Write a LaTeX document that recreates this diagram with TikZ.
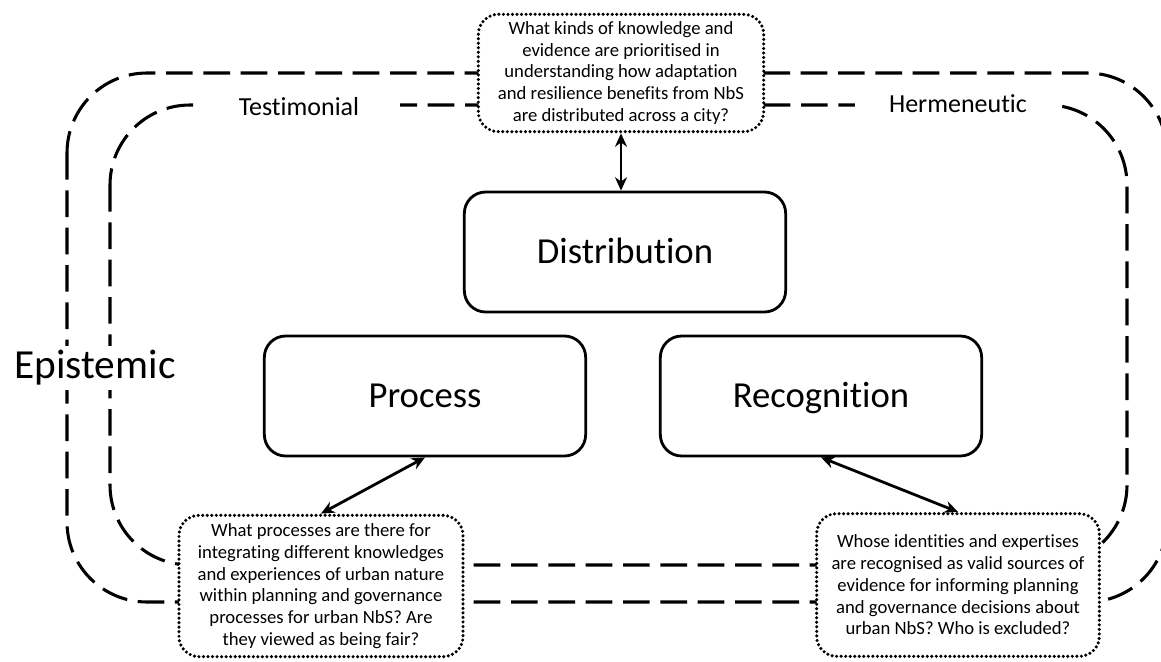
\documentclass[tikz,border=0pt]{standalone}
\usepackage{fontspec}
\setmainfont{Carlito}[Ligatures=NoCommon]
\usetikzlibrary{arrows.meta}
\begin{document}
\begin{tikzpicture}[x=0.75pt,y=-0.75pt,
  dashline/.style={line width=2.3pt, dash pattern=on 20pt off 8pt, rounded corners=60pt},
  mainbox/.style={draw, line width=2.1pt, rounded corners=16pt, fill=white, minimum width=241pt, minimum height=90pt, text height=23.5pt, text depth=6pt, font=\fontsize{27.5}{32}\selectfont},
  qbox/.style={draw, line width=2.6pt, dash pattern=on 0pt off 3.4pt, line cap=round, rounded corners=15pt, fill=white, align=center, font=\fontsize{14}{16.3}\selectfont, inner sep=0pt},
  gaplabel/.style={fill=white, font=\fontsize{19.5}{22}\selectfont, inner sep=2pt, minimum height=22pt},
  biarrow/.style={line width=2.1pt, {Stealth[length=10pt,width=9pt]}-{Stealth[length=10pt,width=9pt]}}
]
\useasboundingbox (0,0) rectangle (1161,661);
\begin{scope}
\clip (0,0) rectangle (1161,661);
\draw[dashline] (67,73) rectangle (1167,602);
\draw[dashline] (110,105) rectangle (1127,565);
\end{scope}

\node[gaplabel, minimum width=152pt] (testi) at (299,107) {Testimonial};
\node[gaplabel, minimum width=155pt] (herme) at (958,104) {Hermeneutic};
\node[fill=white, font=\fontsize{31}{36}\selectfont, inner sep=3pt] (epi) at (95,368) {Epistemic};

\node[qbox, minimum width=214pt, minimum height=88pt] (qtop) at (621,73)
  {What kinds of knowledge and\\evidence are prioritised in\\understanding how adaptation\\and resilience benefits from NbS\\are distributed across a city?};

\node[mainbox] (dist) at (625,252) {Distribution};
\node[mainbox] (proc) at (425,396) {Process};
\node[mainbox] (reco) at (821,396) {Recognition};

\node[qbox, minimum width=213pt, minimum height=106pt] (qproc) at (321,586)
  {What processes are there for\\integrating different knowledges\\and experiences of urban nature\\within planning and governance\\processes for urban NbS? Are\\they viewed as being fair?};
\node[qbox, minimum width=212pt, minimum height=107pt] (qreco) at (958,585)
  {Whose identities and expertises\\are recognised as valid sources of\\evidence for informing planning\\and governance decisions about\\urban NbS? Who is excluded?};

\draw[biarrow] (qtop.south) -- (qtop.south |- dist.north);
\draw[biarrow] (proc.south) -- (qproc.north);
\draw[biarrow] (reco.south) -- (qreco.north);
\end{tikzpicture}
\end{document}
